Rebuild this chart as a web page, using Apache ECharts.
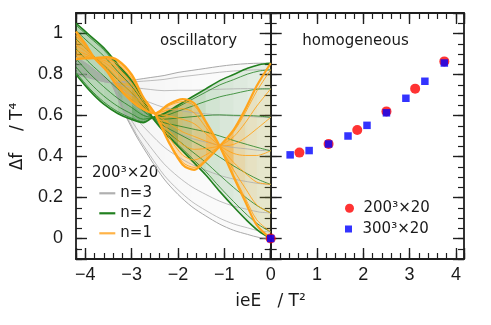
<!DOCTYPE html>
<html><head><meta charset="utf-8">
<script src="https://cdn.jsdelivr.net/npm/echarts@6/dist/echarts.min.js"></script>
<style>html,body{margin:0;padding:0;background:#fff}#c{width:491px;height:325px}</style>
</head><body><div id="c"></div>
<script>
// ---------- data ----------
// oscillatory panel, n=3 (gray) family
const n3X = [-4.2,-3.95,-3.7,-3.45,-3.2,-2.9,-2.6,-2.3,-2.0,-1.7,-1.4,-1.1,-0.8,-0.5,-0.25,0];
const n3Curves = [
  [0.800,0.785,0.770,0.76,0.765,0.775,0.785,0.795,0.810,0.820,0.830,0.840,0.848,0.853,0.855,0.855],
  [0.803,0.788,0.771,0.76,0.760,0.765,0.770,0.776,0.787,0.795,0.803,0.811,0.817,0.821,0.823,0.823],
  [0.812,0.795,0.775,0.76,0.745,0.735,0.727,0.721,0.723,0.723,0.725,0.728,0.730,0.731,0.731,0.730],
  [0.826,0.805,0.781,0.76,0.723,0.690,0.663,0.639,0.626,0.615,0.608,0.602,0.598,0.596,0.592,0.591],
  [0.843,0.818,0.788,0.76,0.698,0.638,0.588,0.543,0.513,0.488,0.470,0.455,0.444,0.437,0.430,0.428],
  [0.859,0.830,0.794,0.76,0.672,0.585,0.512,0.446,0.399,0.361,0.333,0.308,0.290,0.277,0.268,0.264],
  [0.873,0.841,0.800,0.76,0.650,0.540,0.448,0.364,0.302,0.252,0.215,0.182,0.158,0.142,0.129,0.125],
  [0.882,0.848,0.804,0.76,0.635,0.510,0.405,0.309,0.238,0.180,0.137,0.099,0.071,0.052,0.037,0.032],
  [0.885,0.850,0.805,0.76,0.630,0.500,0.390,0.290,0.215,0.155,0.110,0.070,0.040,0.020,0.005,0.000]
];
// n=2 (green) family
const n2X = [-4.2,-3.9,-3.6,-3.3,-3.0,-2.75,-2.55,-2.3,-2.0,-1.7,-1.4,-1.1,-0.8,-0.5,-0.25,0];
const n2Curves = [
  [0.800,0.720,0.655,0.610,0.580,0.565,0.59,0.610,0.650,0.690,0.730,0.770,0.800,0.830,0.848,0.855],
  [0.810,0.730,0.666,0.619,0.587,0.569,0.59,0.607,0.642,0.678,0.714,0.749,0.775,0.802,0.817,0.823],
  [0.837,0.759,0.695,0.645,0.608,0.582,0.59,0.597,0.621,0.645,0.669,0.691,0.706,0.721,0.729,0.730],
  [0.877,0.803,0.740,0.684,0.639,0.601,0.59,0.582,0.588,0.594,0.600,0.603,0.601,0.600,0.597,0.591],
  [0.925,0.855,0.793,0.730,0.675,0.623,0.59,0.565,0.550,0.535,0.520,0.500,0.478,0.458,0.442,0.428],
  [0.973,0.907,0.845,0.776,0.711,0.645,0.59,0.548,0.512,0.476,0.440,0.397,0.354,0.315,0.286,0.264],
  [1.014,0.951,0.890,0.815,0.742,0.663,0.59,0.533,0.479,0.425,0.371,0.309,0.249,0.194,0.154,0.125],
  [1.041,0.980,0.920,0.841,0.763,0.676,0.59,0.523,0.458,0.392,0.326,0.251,0.180,0.113,0.066,0.032],
  [1.050,0.990,0.930,0.850,0.770,0.680,0.59,0.520,0.450,0.380,0.310,0.230,0.155,0.085,0.035,0.000]
];
// n=1 (orange) family
const n1X = [-4.2,-4.0,-3.8,-3.55,-3.3,-3.0,-2.75,-2.5,-2.2,-1.9,-1.65,-1.4,-1.1,-0.8,-0.55,-0.3,0];
const n1Curves = [
  [0.875,0.878,0.88,0.885,0.870,0.800,0.690,0.61,0.470,0.360,0.335,0.380,0.45,0.530,0.630,0.745,0.855],
  [0.880,0.881,0.88,0.883,0.865,0.795,0.688,0.61,0.477,0.372,0.347,0.387,0.45,0.521,0.613,0.719,0.823],
  [0.895,0.889,0.88,0.876,0.851,0.781,0.681,0.61,0.497,0.407,0.383,0.408,0.45,0.496,0.564,0.646,0.730],
  [0.917,0.900,0.88,0.865,0.830,0.760,0.672,0.61,0.527,0.459,0.435,0.439,0.45,0.459,0.491,0.535,0.591],
  [0.943,0.914,0.88,0.853,0.805,0.735,0.660,0.61,0.563,0.520,0.498,0.475,0.45,0.415,0.405,0.405,0.428],
  [0.968,0.928,0.88,0.840,0.780,0.710,0.649,0.61,0.598,0.581,0.560,0.511,0.45,0.371,0.319,0.275,0.264],
  [0.990,0.939,0.88,0.830,0.759,0.689,0.639,0.61,0.628,0.633,0.613,0.542,0.45,0.334,0.246,0.164,0.125],
  [1.005,0.947,0.88,0.822,0.745,0.675,0.632,0.61,0.648,0.668,0.648,0.563,0.45,0.309,0.197,0.091,0.032],
  [1.010,0.950,0.88,0.820,0.740,0.670,0.630,0.61,0.655,0.680,0.660,0.570,0.45,0.300,0.180,0.065,0.000]
];
// homogeneous panel
const lat200X = [0, 0.62, 1.25, 1.87, 2.5, 3.12, 3.75];
const lat200Y = [0, 0.419, 0.461, 0.529, 0.620, 0.731, 0.864];
const lat300X = [0, 0.42, 0.83, 1.25, 1.67, 2.08, 2.5, 2.92, 3.33, 3.75];
const lat300Y = [0, 0.408, 0.429, 0.461, 0.500, 0.552, 0.613, 0.684, 0.767, 0.856];
// tick labels
const xTicksLeft = [-4, -3, -2, -1, 0];
const xTicksRight = [1, 2, 3, 4];
const yTicks = [0, 0.2, 0.4, 0.6, 0.8, 1];

// ---------- chart ----------
const FRAME = '#1e1e1e';
const numFont = '"Liberation Sans", Arial, sans-serif';
const txtFont = '"DejaVu Sans", sans-serif';
const has = (arr, v) => arr.some(t => Math.abs(t - v) < 1e-6);
const fmtNum = v => (v < 0 ? '\u2212' + Math.abs(v) : String(v));
const labelStyle = { color: '#1a1a1a', fontSize: 18, fontFamily: numFont };

function majorAxis(extra) {
  return Object.assign({
    type: 'value',
    splitLine: { show: false },
    axisLine: { show: true, onZero: false, lineStyle: { color: FRAME, width: 1.8 } },
    axisTick: { show: true, inside: true, length: 11, lineStyle: { color: FRAME, width: 1.4 } },
    axisLabel: { show: false }
  }, extra);
}
function minorAxis(extra) {
  return Object.assign({
    type: 'value',
    splitLine: { show: false },
    axisLine: { show: false, onZero: false },
    axisTick: { show: true, inside: true, length: 6, lineStyle: { color: FRAME, width: 1.2 } },
    axisLabel: { show: false }
  }, extra);
}
const LX = { min: -4.2, max: 0 };
const RX = { min: 0, max: 4.175 };
const YY = { min: -0.1, max: 1.1 };

const xAxes = [
  majorAxis(Object.assign({ gridIndex: 0, position: 'bottom', splitNumber: 5,
    axisLabel: Object.assign({ show: true, margin: 7,
      formatter: v => has(xTicksLeft, v) ? fmtNum(Math.round(v)) : '' }, labelStyle) }, LX)),
  majorAxis(Object.assign({ gridIndex: 0, position: 'top', splitNumber: 5 }, LX)),
  minorAxis(Object.assign({ gridIndex: 0, position: 'bottom', interval: 0.2 }, LX)),
  minorAxis(Object.assign({ gridIndex: 0, position: 'top', interval: 0.2 }, LX)),
  majorAxis(Object.assign({ gridIndex: 1, position: 'bottom', splitNumber: 5,
    axisLabel: Object.assign({ show: true, margin: 7,
      formatter: v => has(xTicksRight, v) ? fmtNum(Math.round(v)) : '' }, labelStyle) }, RX)),
  majorAxis(Object.assign({ gridIndex: 1, position: 'top', splitNumber: 5 }, RX)),
  minorAxis(Object.assign({ gridIndex: 1, position: 'bottom', interval: 0.2 }, RX)),
  minorAxis(Object.assign({ gridIndex: 1, position: 'top', interval: 0.2 }, RX))
];
const yAxes = [
  majorAxis(Object.assign({ gridIndex: 0, position: 'left', splitNumber: 6,
    axisLabel: Object.assign({ show: true, margin: 13,
      formatter: v => has(yTicks, v) ? String(Math.round(v * 10) / 10) : '' }, labelStyle) }, YY)),
  majorAxis(Object.assign({ gridIndex: 0, position: 'right', splitNumber: 6 }, YY)),
  minorAxis(Object.assign({ gridIndex: 0, position: 'left', interval: 0.05 }, YY)),
  minorAxis(Object.assign({ gridIndex: 0, position: 'right', interval: 0.05 }, YY)),
  majorAxis(Object.assign({ gridIndex: 1, position: 'left', splitNumber: 6 }, YY)),
  majorAxis(Object.assign({ gridIndex: 1, position: 'right', splitNumber: 6 }, YY)),
  minorAxis(Object.assign({ gridIndex: 1, position: 'left', interval: 0.05 }, YY)),
  minorAxis(Object.assign({ gridIndex: 1, position: 'right', interval: 0.05 }, YY))
];

// ribbon shading between the outermost curves (denser where the ribbon is narrow,
// imitating the many thin curves of the original) + the individual curves
function family(name, xs, curves, color, shadeK, shadeMax, edgeWidth, innerWidth) {
  const first = curves[0], last = curves[curves.length - 1];
  const upper = xs.map((x, i) => [x, Math.max(first[i], last[i])]);
  const lower = xs.map((x, i) => [x, Math.min(first[i], last[i])]);
  const out = [{
    type: 'custom', xAxisIndex: 0, yAxisIndex: 0, silent: true, clip: true,
    data: upper,
    renderItem: (params, api) => {
      if (params.dataIndex !== 0) return null;
      const U = upper.map(p => api.coord(p));
      const L = lower.map(p => api.coord(p));
      const children = [];
      for (let i = 0; i < U.length - 1; i++) {
        const w = ((L[i][1] - U[i][1]) + (L[i + 1][1] - U[i + 1][1])) / 2;
        const a = Math.min(shadeMax, shadeK / Math.max(w, 1));
        children.push({ type: 'polygon', shape: { points: [U[i], U[i + 1], L[i + 1], L[i]] },
          style: { fill: color, opacity: a, stroke: null } });
      }
      return { type: 'group', children };
    }
  }];
  curves.forEach((ys, k) => {
    const edge = (k === 0 || k === curves.length - 1);
    out.push({
      type: 'line', name, xAxisIndex: 0, yAxisIndex: 0,
      data: xs.map((x, i) => [x, ys[i]]),
      symbol: 'none', smooth: 0.3, silent: true,
      lineStyle: { color, width: edge ? edgeWidth : innerWidth },
      itemStyle: { color }
    });
  });
  return out;
}

const series = [].concat(
  family('n=3', n3X, n3Curves, '#a9a9a9', 9, 0.45, 1.0, 0.75),
  family('n=2', n2X, n2Curves, '#21801f', 18, 0.6, 1.6, 0.8),
  family('n=1', n1X, n1Curves, '#ffa41c', 18, 0.6, 2.2, 0.9),
  [{
    type: 'scatter', name: '200\u00b3\u00d720', xAxisIndex: 4, yAxisIndex: 4, clip: false,
    data: lat200X.map((x, i) => [x, lat200Y[i]]),
    symbol: 'circle', symbolSize: 10, itemStyle: { color: '#ff0000' }, z: 5
  }, {
    type: 'scatter', name: '300\u00b3\u00d720', xAxisIndex: 4, yAxisIndex: 4, clip: false,
    data: lat300X.map((x, i) => [x, lat300Y[i]]),
    symbol: 'rect', symbolSize: 7.5, itemStyle: { color: '#0000ff' }, z: 6
  }]
);

const legendText = { fontFamily: txtFont, fontSize: 15, color: '#1a1a1a', lineHeight: 16 };
const SQUARE = 'path://M0,0L10,0L10,10L0,10Z';
const option = {
  animation: false,
  backgroundColor: '#ffffff',
  grid: [
    { left: 76, top: 13, width: 194.7, height: 246 },
    { left: 270.7, top: 13, width: 193.3, height: 246 }
  ],
  xAxis: xAxes,
  yAxis: yAxes,
  legend: [
    { data: [
        { name: 'n=3', icon: 'rect', itemStyle: { color: '#b0b0b0' } },
        { name: 'n=2', icon: 'rect', itemStyle: { color: '#21801f' } },
        { name: 'n=1', icon: 'rect', itemStyle: { color: '#ffb347' } }
      ],
      orient: 'vertical', left: 99.3, top: 185.3, padding: 0,
      itemWidth: 16, itemHeight: 2.2, itemGap: 4, selectedMode: false, textStyle: legendText },
    { data: [{ name: '200\u00b3\u00d720', icon: 'circle' }], left: 345, top: 200.3, padding: 0,
      itemWidth: 18, itemHeight: 9, selectedMode: false, textStyle: legendText },
    { data: [{ name: '300\u00b3\u00d720', icon: SQUARE }], left: 345, top: 221, padding: 0,
      itemWidth: 18, itemHeight: 7, symbolKeepAspect: true, selectedMode: false, textStyle: legendText }
  ],
  graphic: [
    { type: 'text', x: 198.5, y: 41, style: { text: 'oscillatory', font: '15px ' + txtFont, fill: '#1a1a1a', align: 'center', verticalAlign: 'middle' } },
    { type: 'text', x: 355.5, y: 41, style: { text: 'homogeneous', font: '15px ' + txtFont, fill: '#1a1a1a', align: 'center', verticalAlign: 'middle' } },
    { type: 'text', x: 92, y: 173.5, style: { text: '200\u00b3\u00d720', font: '15px ' + txtFont, fill: '#1a1a1a', align: 'left', verticalAlign: 'middle' } },
    { type: 'text', x: 18, y: 136.5, rotation: Math.PI / 2, style: { text: '\u0394f    / T\u2074', font: '17px ' + txtFont, fill: '#1a1a1a', align: 'center', verticalAlign: 'middle' } },
    { type: 'text', x: 270.5, y: 302, style: { text: 'ieE   / T\u00b2', font: '17px ' + txtFont, fill: '#1a1a1a', align: 'center', verticalAlign: 'middle' } }
  ],
  series
};
const chart = echarts.init(document.getElementById('c'), null, { renderer: 'canvas', width: 491, height: 325 });
chart.setOption(option);
</script>
</body></html>
